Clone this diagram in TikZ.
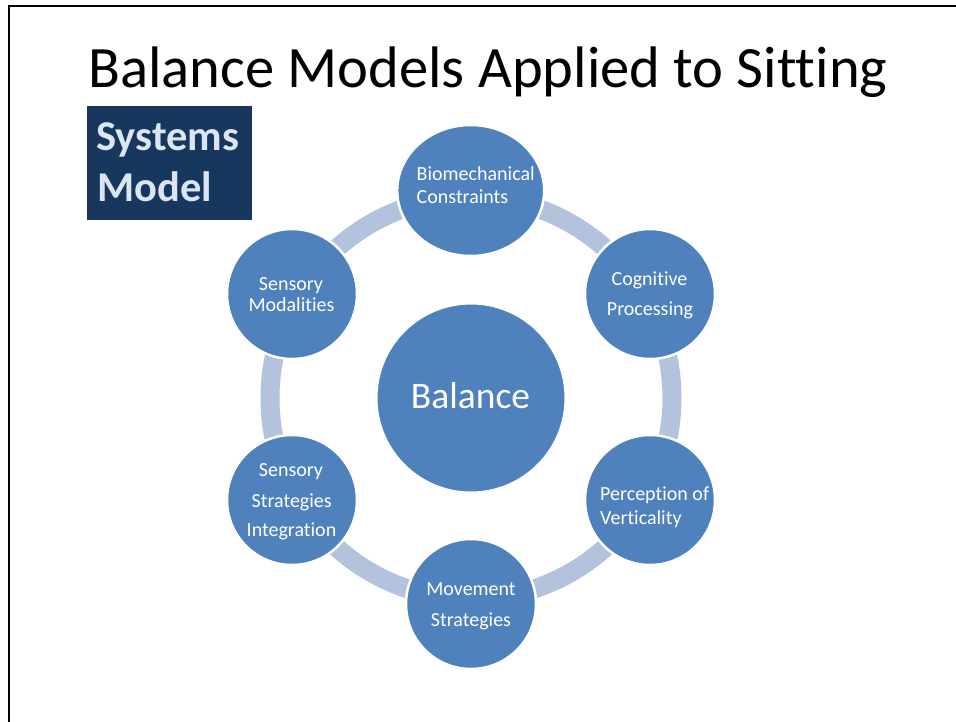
\documentclass[tikz,border=0pt]{standalone}
\usepackage{fontspec}
\setmainfont{Carlito}[Ligatures={NoCommon}]
\usetikzlibrary{shapes.geometric}
\definecolor{circblue}{HTML}{4F81BD}
\definecolor{ringblue}{HTML}{B3C3DE}
\definecolor{navy}{HTML}{17375E}
\definecolor{boxtext}{HTML}{DCE6F2}
\begin{document}
\begin{tikzpicture}[x=1pt,y=-1pt,
  outer/.style={circle, fill=circblue, draw=white, line width=2.5pt, minimum size=130pt, inner sep=0pt},
  lbl/.style={text=white, font=\fontsize{20}{24}\selectfont, inner sep=0pt},
  boxlbl/.style={text=boxtext, font=\bfseries\fontsize{42.5}{50}\selectfont, inner sep=0pt, anchor=base west},
]
\useasboundingbox (0,0) rectangle (956,721);
\fill[white] (0,0) rectangle (956,721);
\draw[line width=2pt] (9,722) -- (9,5.5) -- (957,5.5);

% title
\node[anchor=base west, inner sep=0pt, font=\fontsize{58.6}{70}\selectfont] (title) at (88,87.7) {Balance Models Applied to Sitting};

% systems model box
\node[fill=navy, minimum width=165pt, minimum height=114pt, anchor=north west, inner sep=0pt] (box) at (87,106) {};
\node[boxlbl] (sys) at (96,150.7) {Systems};
\node[boxlbl] (mod) at (97,201.7) {Model};

% ring
\coordinate (c) at (471,398);
\draw[ringblue, line width=19pt] (c) circle[radius=201pt];

% circles
\node[circle, fill=circblue, draw=white, line width=1pt, minimum size=188pt, inner sep=0pt] (bal) at (c) {};
\node[ellipse, fill=circblue, draw=white, line width=2.5pt, minimum width=147pt, minimum height=131pt, inner sep=0pt] (bio) at (470.7,190.5) {};
\node[outer] (cog) at (650,294) {};
\node[outer] (per) at (650,500) {};
\node[outer] (mov) at (471,604) {};
\node[outer] (ssi) at (292,500) {};
\node[outer] (smo) at (292,294) {};

% labels
\node[text=white, inner sep=0pt, anchor=base, font=\fontsize{37.5}{45}\selectfont] (balt) at (470.5,408.3) {Balance};

\node[lbl, anchor=base west] (bio1) at (416.5,180) {Biomechanical};
\node[lbl, anchor=base west] (bio2) at (416.5,203.3) {Constraints};

\node[lbl, anchor=base] (smo1) at (291,290) {Sensory};
\node[lbl, anchor=base] (smo2) at (291.5,311) {Modalities};

\node[lbl, anchor=base] (ssi1) at (291,476.7) {Sensory};
\node[lbl, anchor=base] (ssi2) at (291.7,507) {Strategies};
\node[lbl, anchor=base] (ssi3) at (291.5,536.7) {Integration};

\node[lbl, anchor=base] (cog1) at (649.5,285) {Cognitive};
\node[lbl, anchor=base] (cog2) at (650,315) {Processing};

\node[lbl, anchor=base west] (per1) at (600,500) {Perception of};
\node[lbl, anchor=base west] (per2) at (600,524) {Verticality};

\node[lbl, anchor=base] (mov1) at (471,595) {Movement};
\node[lbl, anchor=base] (mov2) at (471,626) {Strategies};
\end{tikzpicture}
\end{document}
